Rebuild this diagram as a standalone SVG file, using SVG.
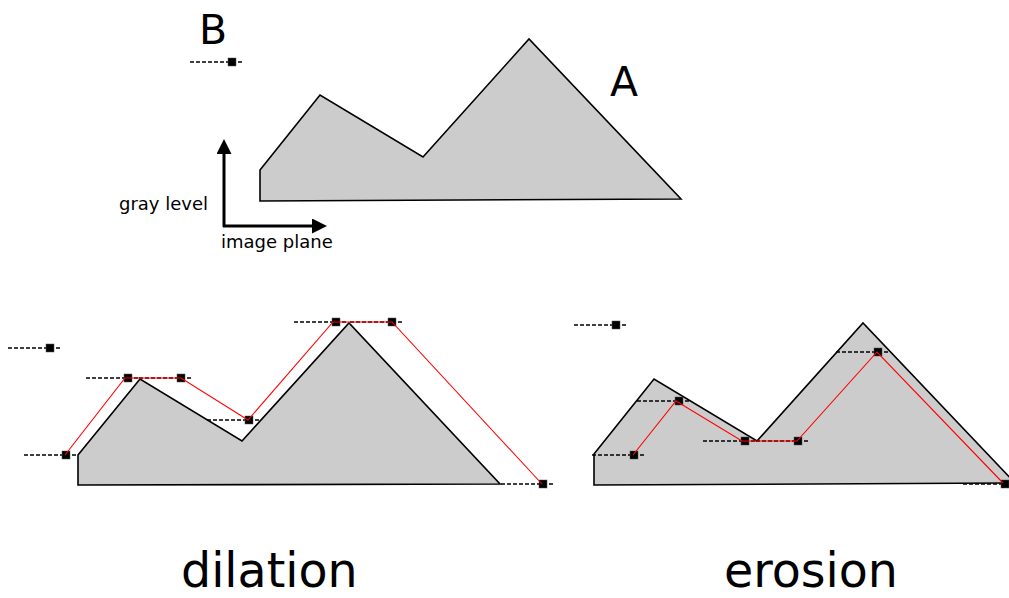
<svg xmlns="http://www.w3.org/2000/svg" width="1009" height="598" viewBox="0 0 1009 598">
<style>
.shape{fill:#cccccc;stroke:#000;stroke-width:1.6;stroke-linejoin:miter}
.se{stroke:#000;stroke-width:1.4;stroke-dasharray:4,2;fill:none}
.pt{fill:#000;stroke:#555;stroke-width:0.5}
.red{fill:none;stroke:#ff0000;stroke-width:1.1}
.t{font-family:"DejaVu Sans",sans-serif;fill:#000}
.axis{stroke:#000;stroke-width:3;fill:none}
</style>
<defs>
<g id="sedef">
<line class="se" x1="-42" y1="0" x2="10" y2="0"/>
<rect class="pt" x="-4" y="-4" width="8" height="8"/>
</g>
<marker id="arr" markerWidth="5" markerHeight="5" refX="1" refY="2.5" orient="auto" markerUnits="strokeWidth">
<path d="M0,0 L5,2.5 L0,5 Z" fill="#000"/>
</marker>
</defs>

<g id="shapeA">
<polygon class="shape" points="260,170 320,95 423,157 529,39 681,199 260,201"/>
<text class="t" x="610" y="96" font-size="41">A</text>
</g>

<g id="seB">
<use href="#sedef" x="232" y="62"/>
<text class="t" x="199" y="44" font-size="41">B</text>
</g>

<g id="axes">
<line class="axis" x1="224" y1="227" x2="224" y2="151" marker-end="url(#arr)"/>
<line class="axis" x1="223" y1="226" x2="315" y2="226" marker-end="url(#arr)"/>
<text class="t" x="119" y="210" font-size="18">gray level</text>
<text class="t" x="221" y="248" font-size="18">image plane</text>
</g>

<g id="dilation">
<polygon class="shape" points="78,455 140,379 242,441 349,323 500,484 78,485"/>
<use href="#sedef" x="50" y="348"/>
<use href="#sedef" x="66" y="455"/>
<use href="#sedef" x="128" y="378"/>
<use href="#sedef" x="181" y="378"/>
<use href="#sedef" x="249" y="420"/>
<use href="#sedef" x="336" y="322"/>
<use href="#sedef" x="392" y="322"/>
<use href="#sedef" x="543" y="484"/>
<polyline class="red" points="65,455 125,378 181,378 248,420 333,322 392,322 542,484"/>
<text class="t" x="181" y="587" font-size="47.5">dilation</text>
</g>

<g id="erosion">
<polygon class="shape" points="594,454 654,379 757,441 863,323 1015,483 594,485"/>
<use href="#sedef" x="616" y="325"/>
<use href="#sedef" x="634" y="455"/>
<use href="#sedef" x="679" y="401"/>
<use href="#sedef" x="745" y="441"/>
<use href="#sedef" x="798" y="441"/>
<use href="#sedef" x="878" y="352"/>
<use href="#sedef" x="1005" y="484"/>
<polyline class="red" points="633,455 676,401 742,441 797,441 877,352 1003,483"/>
<text class="t" x="724" y="587" font-size="47.5">erosion</text>
</g>
</svg>
